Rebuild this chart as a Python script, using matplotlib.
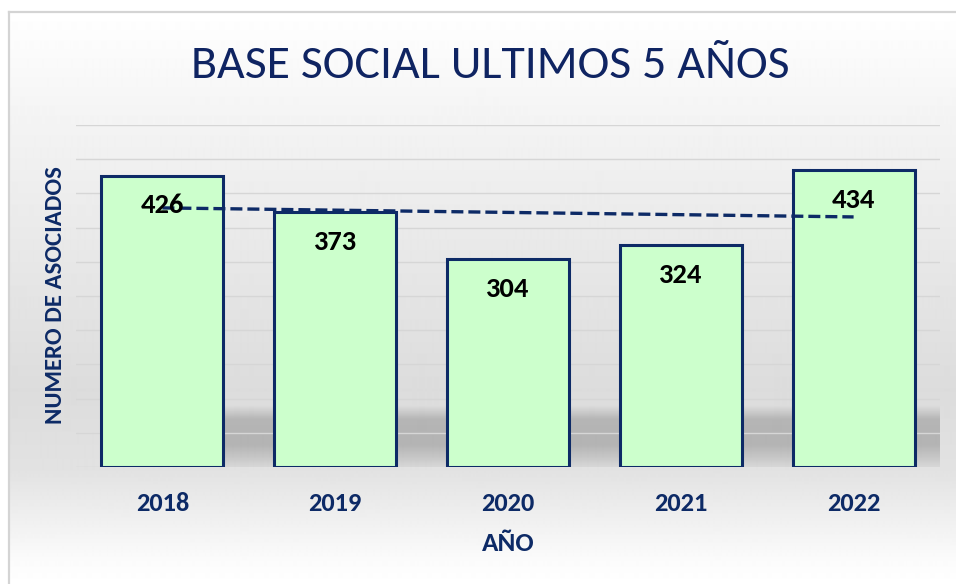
import numpy as np
import matplotlib
matplotlib.use("Agg")
import matplotlib.pyplot as plt
from matplotlib import font_manager as fm

years = ['2018', '2019', '2020', '2021', '2022']
socios = [426, 373, 304, 324, 434]

navy = '#0D2A66'


def pick(cands):
    avail = {f.name for f in fm.fontManager.ttflist}
    for c in cands:
        if c in avail:
            return c
    return 'DejaVu Sans'


calibri = pick(['Carlito', 'Calibri', 'IBM Plex Sans Condensed', 'Open Sans'])

W, H = 956, 584
fig = plt.figure(figsize=(W / 100, H / 100), dpi=100)
fig.patch.set_facecolor('white')

# background of the chart box: vertical gray gradient
bg = fig.add_axes([0, 0, 1, 1], zorder=-5)
bg.axis('off')
rows = np.arange(12, H)
prof = np.interp(rows, [12, 125, 390, 470, 560, 584],
                 [255, 243, 220, 226, 251, 255]) / 255.0
grad = np.repeat(prof[:, None], 2, axis=1)
bg.imshow(grad, cmap='gray', vmin=0, vmax=1, aspect='auto',
          extent=(9, W, H, 12), interpolation='bilinear')
bg.plot([9, 9], [H, 12], color='#D4D4D4', lw=1.6)
bg.plot([9, W], [12, 12], color='#D4D4D4', lw=1.6)
bg.set_xlim(0, W)
bg.set_ylim(H, 0)

ax = fig.add_axes([76 / W, (H - 467) / H, 864 / W, 342 / H])
ax.set_facecolor('none')
x = np.arange(len(years))
width = 0.705

ax.set_xlim(-0.5, len(years) - 0.5)
ax.set_ylim(0, 500)

# floor shadow band behind the bars
yy = np.linspace(0, 500, 500)
alpha = np.interp(yy, [0, 10, 32, 69, 90, 500], [0.05, 0.1, 0.2, 0.19, 0.0, 0.0])
shade = np.zeros((len(yy), 2, 4))
shade[:, :, 3] = alpha[:, None]
ax.imshow(shade, aspect='auto', origin='lower', interpolation='bilinear',
          extent=(width / 2, len(years) - 0.5, 0, 500), zorder=0.2)

ax.set_yticks(np.arange(0, 501, 50))
ax.yaxis.grid(True, color='#D6D6D6', lw=1.0, zorder=0.5)
ax.set_axisbelow(True)

ax.bar(x, socios, width=width, color='#CCFFCC', edgecolor=navy,
       linewidth=2.2, zorder=2)

coef = np.polyfit(x, socios, 1)
ax.plot(x, np.polyval(coef, x), color=navy, lw=2.4,
        linestyle=(0, (3.6, 1.5)), zorder=3)

for xi, v in zip(x, socios):
    ax.annotate(str(v), (xi, v), xytext=(0, -21.5), textcoords='offset points',
                ha='center', va='center', fontsize=20.5, fontweight='bold',
                family=calibri, color='black', zorder=4)

for s in ax.spines.values():
    s.set_visible(False)
ax.tick_params(axis='y', left=False, labelleft=False)
ax.tick_params(axis='x', bottom=False, pad=14.5)
ax.set_xticks(x)
ax.set_xticklabels(years, fontsize=19, fontweight='bold', family=calibri, color=navy)

ax.set_xlabel('AÑO', fontsize=19.5, fontweight='bold', family=calibri, color=navy)
ax.xaxis.set_label_coords(0.5, -0.19)
ax.set_ylabel('NUMERO DE ASOCIADOS', fontsize=17.8, fontweight='bold',
              family=calibri, color=navy)
ax.yaxis.set_label_coords(-0.012, 0.503)

fig.text(490 / W, 1 - 65 / H, 'BASE SOCIAL ULTIMOS 5 AÑOS', ha='center', va='center',
         fontsize=34.5, family=calibri, color='#0F2462')

fig.savefig('out.png', dpi=100)
